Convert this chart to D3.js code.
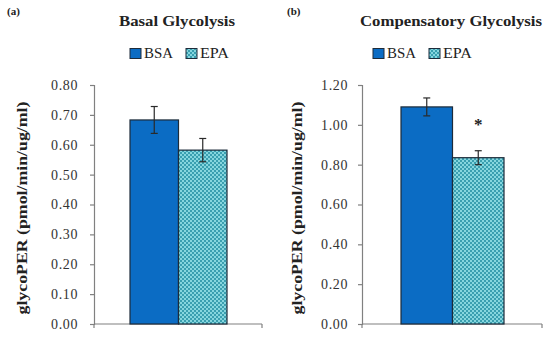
<!DOCTYPE html>
<html><head><meta charset="utf-8">
<script src="https://cdn.jsdelivr.net/npm/d3@7"></script>
<style>body{margin:0;background:#fff}svg{display:block}</style>
</head><body>
<svg id="c" width="550" height="340"></svg>
<script>
const series = ["BSA", "EPA"];
const panelLetters = ["(a)", "(b)"];
const panelTitles = ["Basal Glycolysis", "Compensatory Glycolysis"];
const basalValues = [0.683, 0.582];
const basalErrors = [0.045, 0.039];
const compValues = [1.09, 0.835];
const compErrors = [0.045, 0.035];
const basalTicks = [0, 0.1, 0.2, 0.3, 0.4, 0.5, 0.6, 0.7, 0.8];
const compTicks = [0, 0.2, 0.4, 0.6, 0.8, 1.0, 1.2];
const compSignif = ["", "*"];
const yLabel = "glycoPER (pmol/min/ug/ml)";

const svg = d3.select("#c");
const defs = svg.append("defs");
const pat = defs.append("pattern").attr("id","chk").attr("patternUnits","userSpaceOnUse")
  .attr("width",4).attr("height",4);
pat.append("rect").attr("width",4).attr("height",4).attr("fill","#86d6de");
pat.append("rect").attr("x",0).attr("y",0).attr("width",2).attr("height",2).attr("fill","#3a9fb0");
pat.append("rect").attr("x",2).attr("y",2).attr("width",2).attr("height",2).attr("fill","#3a9fb0");

const fills = ["#0b6cc4", "url(#chk)"];
const serif = "'Liberation Serif', 'DejaVu Serif', serif";

const panels = [
  {x0:94, x1:262, bandL:130, bandR:227, yMax:0.8, values:basalValues, errs:basalErrors, ticks:basalTicks,
   letterX:7, titleX:177, titleW:116, legX:130, yLabX:27, tickDx:-9, signif:["",""]},
  {x0:362, x1:542, bandL:401, bandR:504, yMax:1.2, values:compValues, errs:compErrors, ticks:compTicks,
   letterX:287, titleX:451, titleW:182, legX:373, yLabX:302, tickDx:-7, signif:compSignif}
];

panels.forEach((p, i) => {
  const g = svg.append("g");
  const y = d3.scaleLinear().domain([0, p.yMax]).range([324, 85]);
  const x = d3.scaleBand().domain(series).range([p.bandL, p.bandR]).paddingInner(0);

  g.append("text").attr("x", p.letterX).attr("y", 15).text(panelLetters[i])
    .attr("font-family", serif).attr("font-weight","bold").attr("font-size",11).attr("fill","#222");
  g.append("text").attr("x", p.titleX).attr("y", 26).attr("text-anchor","middle").text(panelTitles[i])
    .attr("textLength", p.titleW).attr("lengthAdjust","spacingAndGlyphs")
    .attr("font-family", serif).attr("font-weight","bold").attr("font-size",15).attr("fill","#222");

  // legend
  const leg = g.append("g").attr("transform", `translate(${p.legX},0)`);
  series.forEach((s, k) => {
    const lx = k * 56;
    leg.append("rect").attr("x", lx).attr("y", 48.5).attr("width", 11).attr("height", 10)
      .attr("fill", fills[k]).attr("stroke","#1d2b3a").attr("stroke-width",1);
    leg.append("text").attr("x", lx + 14).attr("y", 58).text(s)
      .attr("textLength", 29).attr("lengthAdjust","spacingAndGlyphs")
      .attr("font-family", serif).attr("font-size",14).attr("fill","#222");
  });

  // y axis
  const ya = g.append("g").attr("transform", `translate(${p.x0},0)`)
    .call(d3.axisLeft(y).tickValues(p.ticks).tickFormat(d3.format(".2f")).tickSize(4).tickSizeOuter(4));
  ya.select(".domain").attr("stroke","#808080").attr("stroke-width",1.2);
  ya.selectAll(".tick line").attr("stroke","#808080").attr("stroke-width",1.2);
  ya.selectAll("text").attr("font-family", serif).attr("font-size",14).attr("fill","#333")
    .attr("dx", p.tickDx).attr("letter-spacing", 0.6);

  // x axis
  const xa = g.append("g").attr("transform", `translate(0,324)`);
  xa.append("line").attr("x1", p.x0).attr("x2", p.x1).attr("y1",0).attr("y2",0)
    .attr("stroke","#808080").attr("stroke-width",1.2);
  xa.append("line").attr("x1", p.x0).attr("x2", p.x0).attr("y1",0).attr("y2",4).attr("stroke","#808080").attr("stroke-width",1.2);
  xa.append("line").attr("x1", p.x1).attr("x2", p.x1).attr("y1",0).attr("y2",4).attr("stroke","#808080").attr("stroke-width",1.2);

  // bars
  series.forEach((s, k) => {
    g.append("rect").attr("x", x(s)).attr("y", y(p.values[k])).attr("width", x.bandwidth())
      .attr("height", y(0) - y(p.values[k])).attr("fill", fills[k])
      .attr("stroke","#1d2b3a").attr("stroke-width",1.2);
    const cx = x(s) + x.bandwidth()/2;
    const hi = y(p.values[k] + p.errs[k]), lo = y(p.values[k] - p.errs[k]);
    g.append("line").attr("x1",cx).attr("x2",cx).attr("y1",hi).attr("y2",lo).attr("stroke","#2a2a2a").attr("stroke-width",1.2);
    [hi, lo].forEach(v => g.append("line").attr("x1",cx-3.5).attr("x2",cx+3.5).attr("y1",v).attr("y2",v)
      .attr("stroke","#2a2a2a").attr("stroke-width",1.2));
    if (p.signif[k]) {
      g.append("text").attr("x", cx).attr("y", 130).attr("text-anchor","middle").text(p.signif[k])
        .attr("font-family", serif).attr("font-weight","bold").attr("font-size",17).attr("fill","#222");
    }
  });

  // y label
  g.append("text").attr("transform", `translate(${p.yLabX},208) rotate(-90)`)
    .attr("text-anchor","middle").text(yLabel)
    .attr("textLength", 213).attr("lengthAdjust","spacingAndGlyphs")
    .attr("font-family", serif).attr("font-weight","bold").attr("font-size",14).attr("fill","#222");
});
</script>
</body></html>
